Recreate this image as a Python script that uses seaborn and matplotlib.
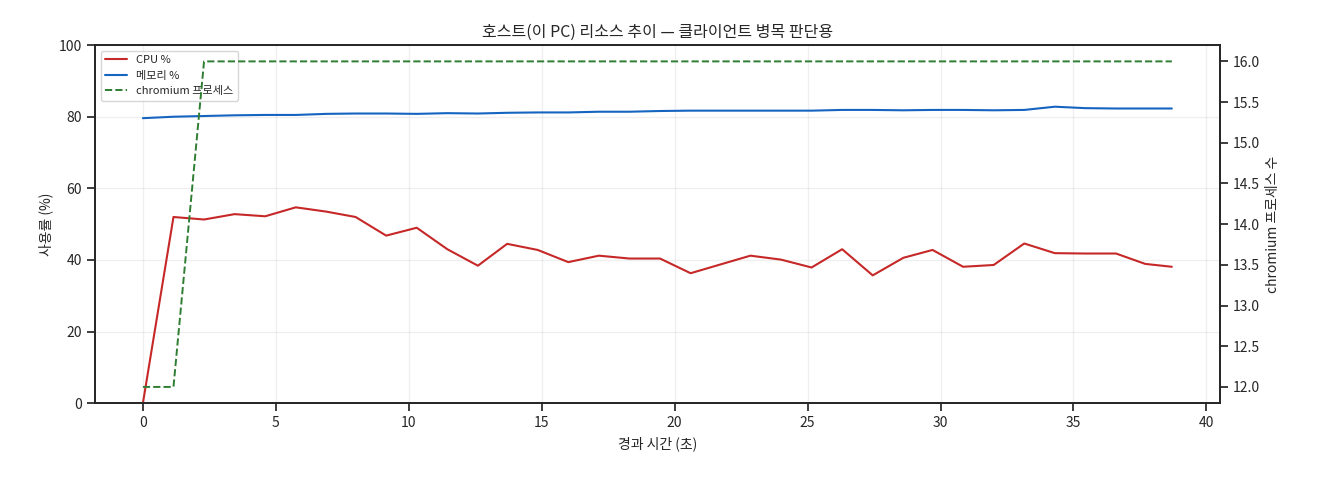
import matplotlib
matplotlib.use("Agg")
import matplotlib.pyplot as plt
import seaborn as sns
import numpy as np

sns.set_theme(style="ticks")
plt.rcParams['font.family'] = ['Noto Sans CJK KR', 'DejaVu Sans']
plt.rcParams['axes.unicode_minus'] = False

elapsed = [0, 1.15, 2.3, 3.45, 4.6, 5.75, 6.9, 8.0, 9.15, 10.3, 11.45, 12.6, 13.7, 14.85,
           16.0, 17.15, 18.3, 19.45, 20.6, 21.7, 22.85, 24.0, 25.15, 26.3, 27.45, 28.6,
           29.7, 30.85, 32.0, 33.15, 34.3, 35.45, 36.6, 37.7, 38.7]
cpu = [0, 52, 51.3, 52.8, 52.2, 54.7, 53.5, 52, 46.8, 49, 43, 38.4, 44.5, 42.8, 39.4, 41.2,
       40.4, 40.4, 36.3, 38.7, 41.2, 40.1, 37.9, 43, 35.7, 40.6, 42.8, 38.1, 38.6, 44.6,
       41.9, 41.8, 41.8, 38.9, 38.1]
mem = [79.6, 80.0, 80.2, 80.4, 80.5, 80.5, 80.8, 80.9, 80.9, 80.8, 81.0, 80.9, 81.1, 81.2,
       81.2, 81.4, 81.4, 81.6, 81.7, 81.7, 81.7, 81.7, 81.7, 81.9, 81.9, 81.8, 81.9, 81.9,
       81.8, 81.9, 82.8, 82.4, 82.3, 82.3, 82.3]
procs = [12, 12] + [16] * 33

fig, ax = plt.subplots(figsize=(13.2, 4.8), dpi=100)
sns.lineplot(x=elapsed, y=cpu, ax=ax, color="#c62828", lw=1.5, label="CPU %", legend=False)
sns.lineplot(x=elapsed, y=mem, ax=ax, color="#1565c0", lw=1.5, label="메모리 %", legend=False)
ax.set_ylim(0, 100)
ax.set_xlim(-1.8, 40.5)
ax.set_xlabel("경과 시간 (초)", fontsize=10)
ax.set_ylabel("사용률 (%)", fontsize=10)
ax.tick_params(labelsize=10)
ax.grid(True, alpha=0.3)
ax.set_title("호스트(이 PC) 리소스 추이 — 클라이언트 병목 판단용", fontsize=11.5)

ax2 = ax.twinx()
sns.lineplot(x=elapsed, y=procs, ax=ax2, color="#2e7d32", lw=1.4, linestyle="--",
             label="chromium 프로세스", legend=False)
ax2.set_ylim(11.8, 16.2)
ax2.set_ylabel("chromium 프로세스 수", fontsize=10)
ax2.tick_params(labelsize=10)

h1, l1 = ax.get_legend_handles_labels()
h2, l2 = ax2.get_legend_handles_labels()
ax.legend(h1 + h2, l1 + l2, loc="upper left", fontsize=8)

fig.subplots_adjust(left=0.072, right=0.924, top=0.906, bottom=0.16)
fig.savefig("out.png")
